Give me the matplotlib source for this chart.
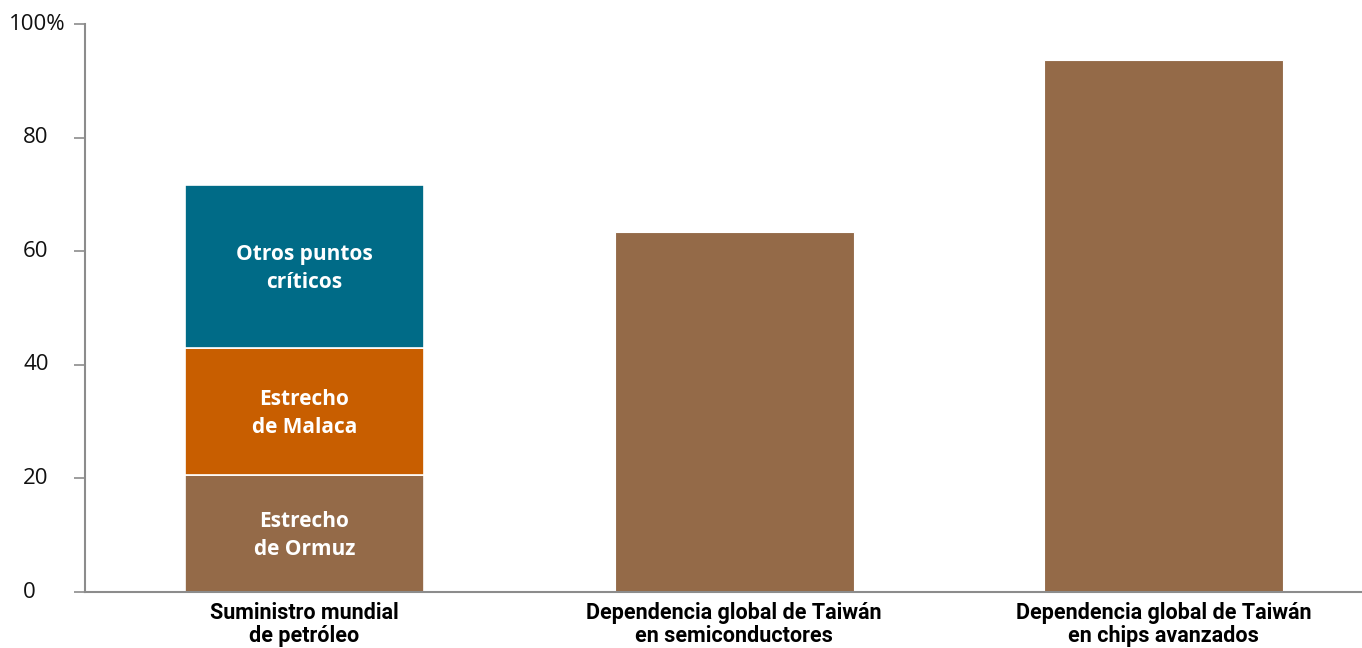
import matplotlib.pyplot as plt
import numpy as np

plt.rcParams['font.family'] = ['Open Sans', 'DejaVu Sans']

# datos
categorias = ["Suministro mundial\nde petróleo",
              "Dependencia global de Taiwán\nen semiconductores",
              "Dependencia global de Taiwán\nen chips avanzados"]
segmentos = ["Estrecho\nde Ormuz", "Estrecho\nde Malaca", "Otros puntos\ncríticos"]
petroleo = [20.6, 22.3, 28.8]
taiwan = [63.4, 93.6]
ticks_y = [0, 20, 40, 60, 80, 100]
etiquetas_y = ["0", "20", "40", "60", "80", "100%"]
colores_seg = ["#946A48", "#C85E00", "#006B87"]
marron = "#946A48"
gris = "#8C8C8C"

fig = plt.figure(figsize=(13.62, 6.48), dpi=100)
ax = fig.add_axes([85 / 1362, 1 - 592 / 648, 1 - 85 / 1362, (592 - 24) / 648])

x = np.arange(len(categorias))
ancho = 0.5565

# barra apilada del petróleo
base = 0
for val, col, nombre in zip(petroleo, colores_seg, segmentos):
    ax.bar(x[0], val, ancho, bottom=base, color=col, edgecolor="white", linewidth=1.2)
    ax.text(x[0], base + val / 2 - 0.3, nombre, ha="center", va="center", color="white",
            fontsize=15, fontweight="bold", linespacing=1.45)
    base += val

# barras de Taiwán
ax.bar(x[1:], taiwan, ancho, color=marron, edgecolor="white", linewidth=0.8)

ax.set_xlim(-0.511, 2.462)
ax.set_ylim(0, 100)
ax.set_yticks(ticks_y)
ax.set_yticklabels([])
ax.set_xticks(x)
ax.set_xticklabels(categorias, fontsize=15.5, fontweight="bold", linespacing=1.08,
                   family=['Roboto', 'DejaVu Sans'])

# etiquetas del eje y alineadas a la izquierda
trans = ax.get_yaxis_transform()
for v, t in zip(ticks_y, etiquetas_y):
    xpos = -76 / 1277 if t == "100%" else -62 / 1277
    ax.text(xpos, v, t, transform=trans, ha="left", va="center",
            fontsize=16, color="#111111")

ax.tick_params(axis="y", length=8, color=gris, width=1.2)
ax.tick_params(axis="x", length=0, pad=7)
for s in ["top", "right"]:
    ax.spines[s].set_visible(False)
ax.spines["left"].set_color(gris)
ax.spines["left"].set_linewidth(1.5)
ax.spines["bottom"].set_color(gris)
ax.spines["bottom"].set_linewidth(1.5)

fig.savefig("out.png", dpi=100)
